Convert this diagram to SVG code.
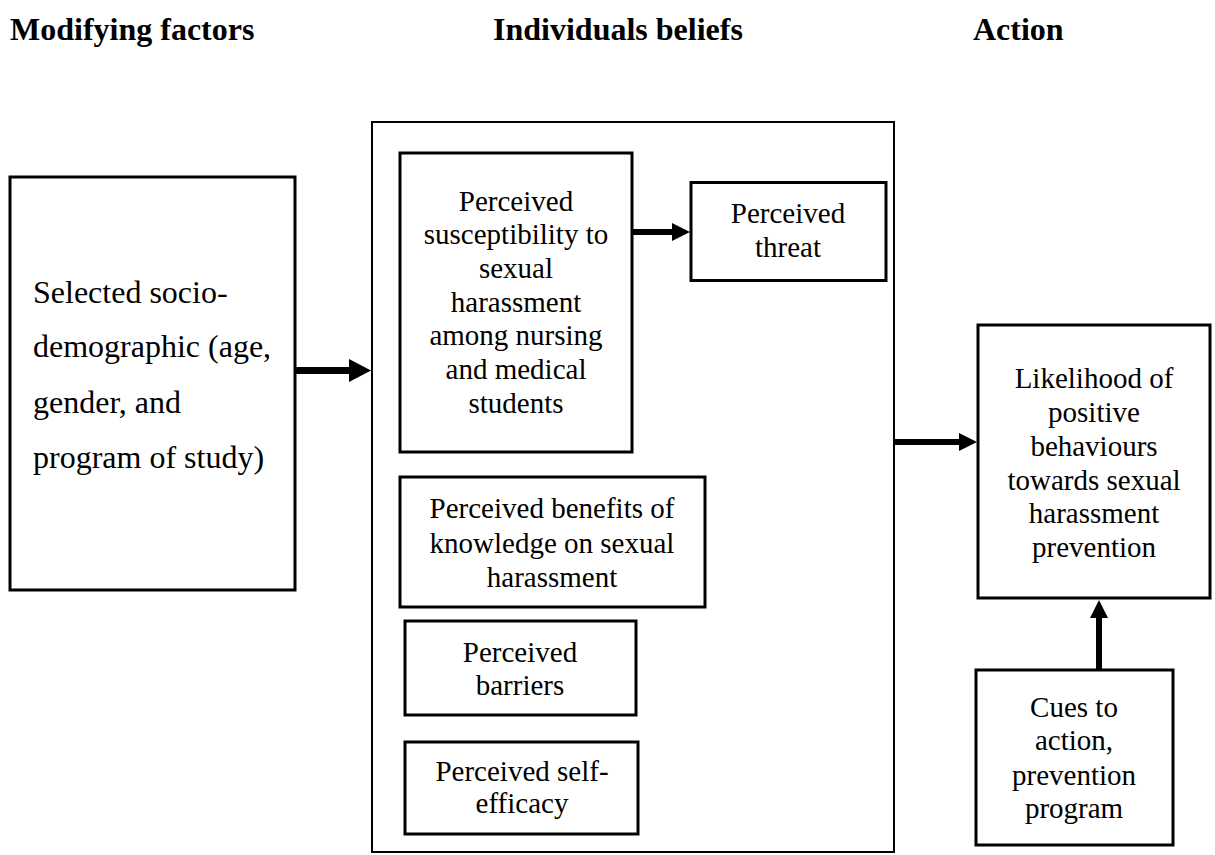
<svg xmlns="http://www.w3.org/2000/svg" width="1215" height="855" viewBox="0 0 1215 855">
<style>
  .box { fill: #fff; stroke: #000; stroke-width: 3; }
  .outer { fill: none; stroke: #000; stroke-width: 2; }
  .conn { stroke: #000; fill: none; }
</style>
<defs>
  <marker id="headBig" markerUnits="userSpaceOnUse" markerWidth="22" markerHeight="23" refX="0" refY="11.5" orient="auto">
    <path d="M0,0 L22,11.5 L0,23 z" fill="#000"/>
  </marker>
  <marker id="headSmall" markerUnits="userSpaceOnUse" markerWidth="18" markerHeight="18" refX="0" refY="9" orient="auto">
    <path d="M0,0 L18,9 L0,18 z" fill="#000"/>
  </marker>
</defs>
<rect width="1215" height="855" fill="#fff"/>

<g id="titles">
  <text x="10" y="40" font-size="32" font-weight="bold" font-family="'Liberation Serif', serif">Modifying factors</text>
  <text x="493" y="40" font-size="32" font-weight="bold" font-family="'Liberation Serif', serif">Individuals beliefs</text>
  <text x="973" y="40" font-size="32" font-weight="bold" font-family="'Liberation Serif', serif">Action</text>
</g>

<g id="node-modifying">
  <rect class="box" x="10" y="177" width="285" height="413"/>
  <text x="33" y="303" font-size="32" font-family="'Liberation Serif', serif">Selected socio-</text>
  <text x="33" y="357" font-size="32" font-family="'Liberation Serif', serif">demographic (age,</text>
  <text x="33" y="413" font-size="32" font-family="'Liberation Serif', serif">gender, and</text>
  <text x="33" y="468" font-size="32" font-family="'Liberation Serif', serif">program of study)</text>
</g>

<g id="node-beliefs">
  <rect class="outer" x="372" y="122" width="522" height="730"/>
</g>

<g id="node-susceptibility">
  <rect class="box" x="400" y="153" width="232" height="299"/>
  <text x="516" y="211" font-size="29" text-anchor="middle" font-family="'Liberation Serif', serif">Perceived</text>
  <text x="516" y="244" font-size="29" text-anchor="middle" font-family="'Liberation Serif', serif">susceptibility to</text>
  <text x="516" y="278" font-size="29" text-anchor="middle" font-family="'Liberation Serif', serif">sexual</text>
  <text x="516" y="312" font-size="29" text-anchor="middle" font-family="'Liberation Serif', serif">harassment</text>
  <text x="516" y="345" font-size="29" text-anchor="middle" font-family="'Liberation Serif', serif">among nursing</text>
  <text x="516" y="379" font-size="29" text-anchor="middle" font-family="'Liberation Serif', serif">and medical</text>
  <text x="516" y="413" font-size="29" text-anchor="middle" font-family="'Liberation Serif', serif">students</text>
</g>

<g id="node-threat">
  <rect class="box" x="691" y="182.5" width="195" height="98"/>
  <text x="788" y="223" font-size="29" text-anchor="middle" font-family="'Liberation Serif', serif">Perceived</text>
  <text x="788" y="257" font-size="29" text-anchor="middle" font-family="'Liberation Serif', serif">threat</text>
</g>

<g id="node-benefits">
  <rect class="box" x="400" y="477" width="305" height="130"/>
  <text x="552" y="518" font-size="29" text-anchor="middle" font-family="'Liberation Serif', serif">Perceived benefits of</text>
  <text x="552" y="553" font-size="29" text-anchor="middle" font-family="'Liberation Serif', serif">knowledge on sexual</text>
  <text x="552" y="587" font-size="29" text-anchor="middle" font-family="'Liberation Serif', serif">harassment</text>
</g>

<g id="node-barriers">
  <rect class="box" x="405" y="621" width="231" height="94"/>
  <text x="520" y="662" font-size="29" text-anchor="middle" font-family="'Liberation Serif', serif">Perceived</text>
  <text x="520" y="695" font-size="29" text-anchor="middle" font-family="'Liberation Serif', serif">barriers</text>
</g>

<g id="node-selfefficacy">
  <rect class="box" x="405" y="742" width="233" height="92"/>
  <text x="522" y="781" font-size="29" text-anchor="middle" font-family="'Liberation Serif', serif">Perceived self-</text>
  <text x="522" y="813" font-size="29" text-anchor="middle" font-family="'Liberation Serif', serif">efficacy</text>
</g>

<g id="node-likelihood">
  <rect class="box" x="978" y="325" width="232" height="273"/>
  <text x="1094" y="388" font-size="29" text-anchor="middle" font-family="'Liberation Serif', serif">Likelihood of</text>
  <text x="1094" y="422" font-size="29" text-anchor="middle" font-family="'Liberation Serif', serif">positive</text>
  <text x="1094" y="456" font-size="29" text-anchor="middle" font-family="'Liberation Serif', serif">behaviours</text>
  <text x="1094" y="490" font-size="29" text-anchor="middle" font-family="'Liberation Serif', serif">towards sexual</text>
  <text x="1094" y="523" font-size="29" text-anchor="middle" font-family="'Liberation Serif', serif">harassment</text>
  <text x="1094" y="557" font-size="29" text-anchor="middle" font-family="'Liberation Serif', serif">prevention</text>
</g>

<g id="node-cues">
  <rect class="box" x="976" y="670" width="197" height="175"/>
  <text x="1074" y="717" font-size="29" text-anchor="middle" font-family="'Liberation Serif', serif">Cues to</text>
  <text x="1074" y="750" font-size="29" text-anchor="middle" font-family="'Liberation Serif', serif">action,</text>
  <text x="1074" y="785" font-size="29" text-anchor="middle" font-family="'Liberation Serif', serif">prevention</text>
  <text x="1074" y="818" font-size="29" text-anchor="middle" font-family="'Liberation Serif', serif">program</text>
</g>

<g id="connectors">
  <line class="conn" x1="295" y1="370.5" x2="349" y2="370.5" stroke-width="7" marker-end="url(#headBig)"/>
  <line class="conn" x1="632" y1="232" x2="672" y2="232" stroke-width="6" marker-end="url(#headSmall)"/>
  <line class="conn" x1="894" y1="442" x2="959" y2="442" stroke-width="6" marker-end="url(#headSmall)"/>
  <line class="conn" x1="1099" y1="670" x2="1099" y2="618" stroke-width="6" marker-end="url(#headSmall)"/>
</g>
</svg>
